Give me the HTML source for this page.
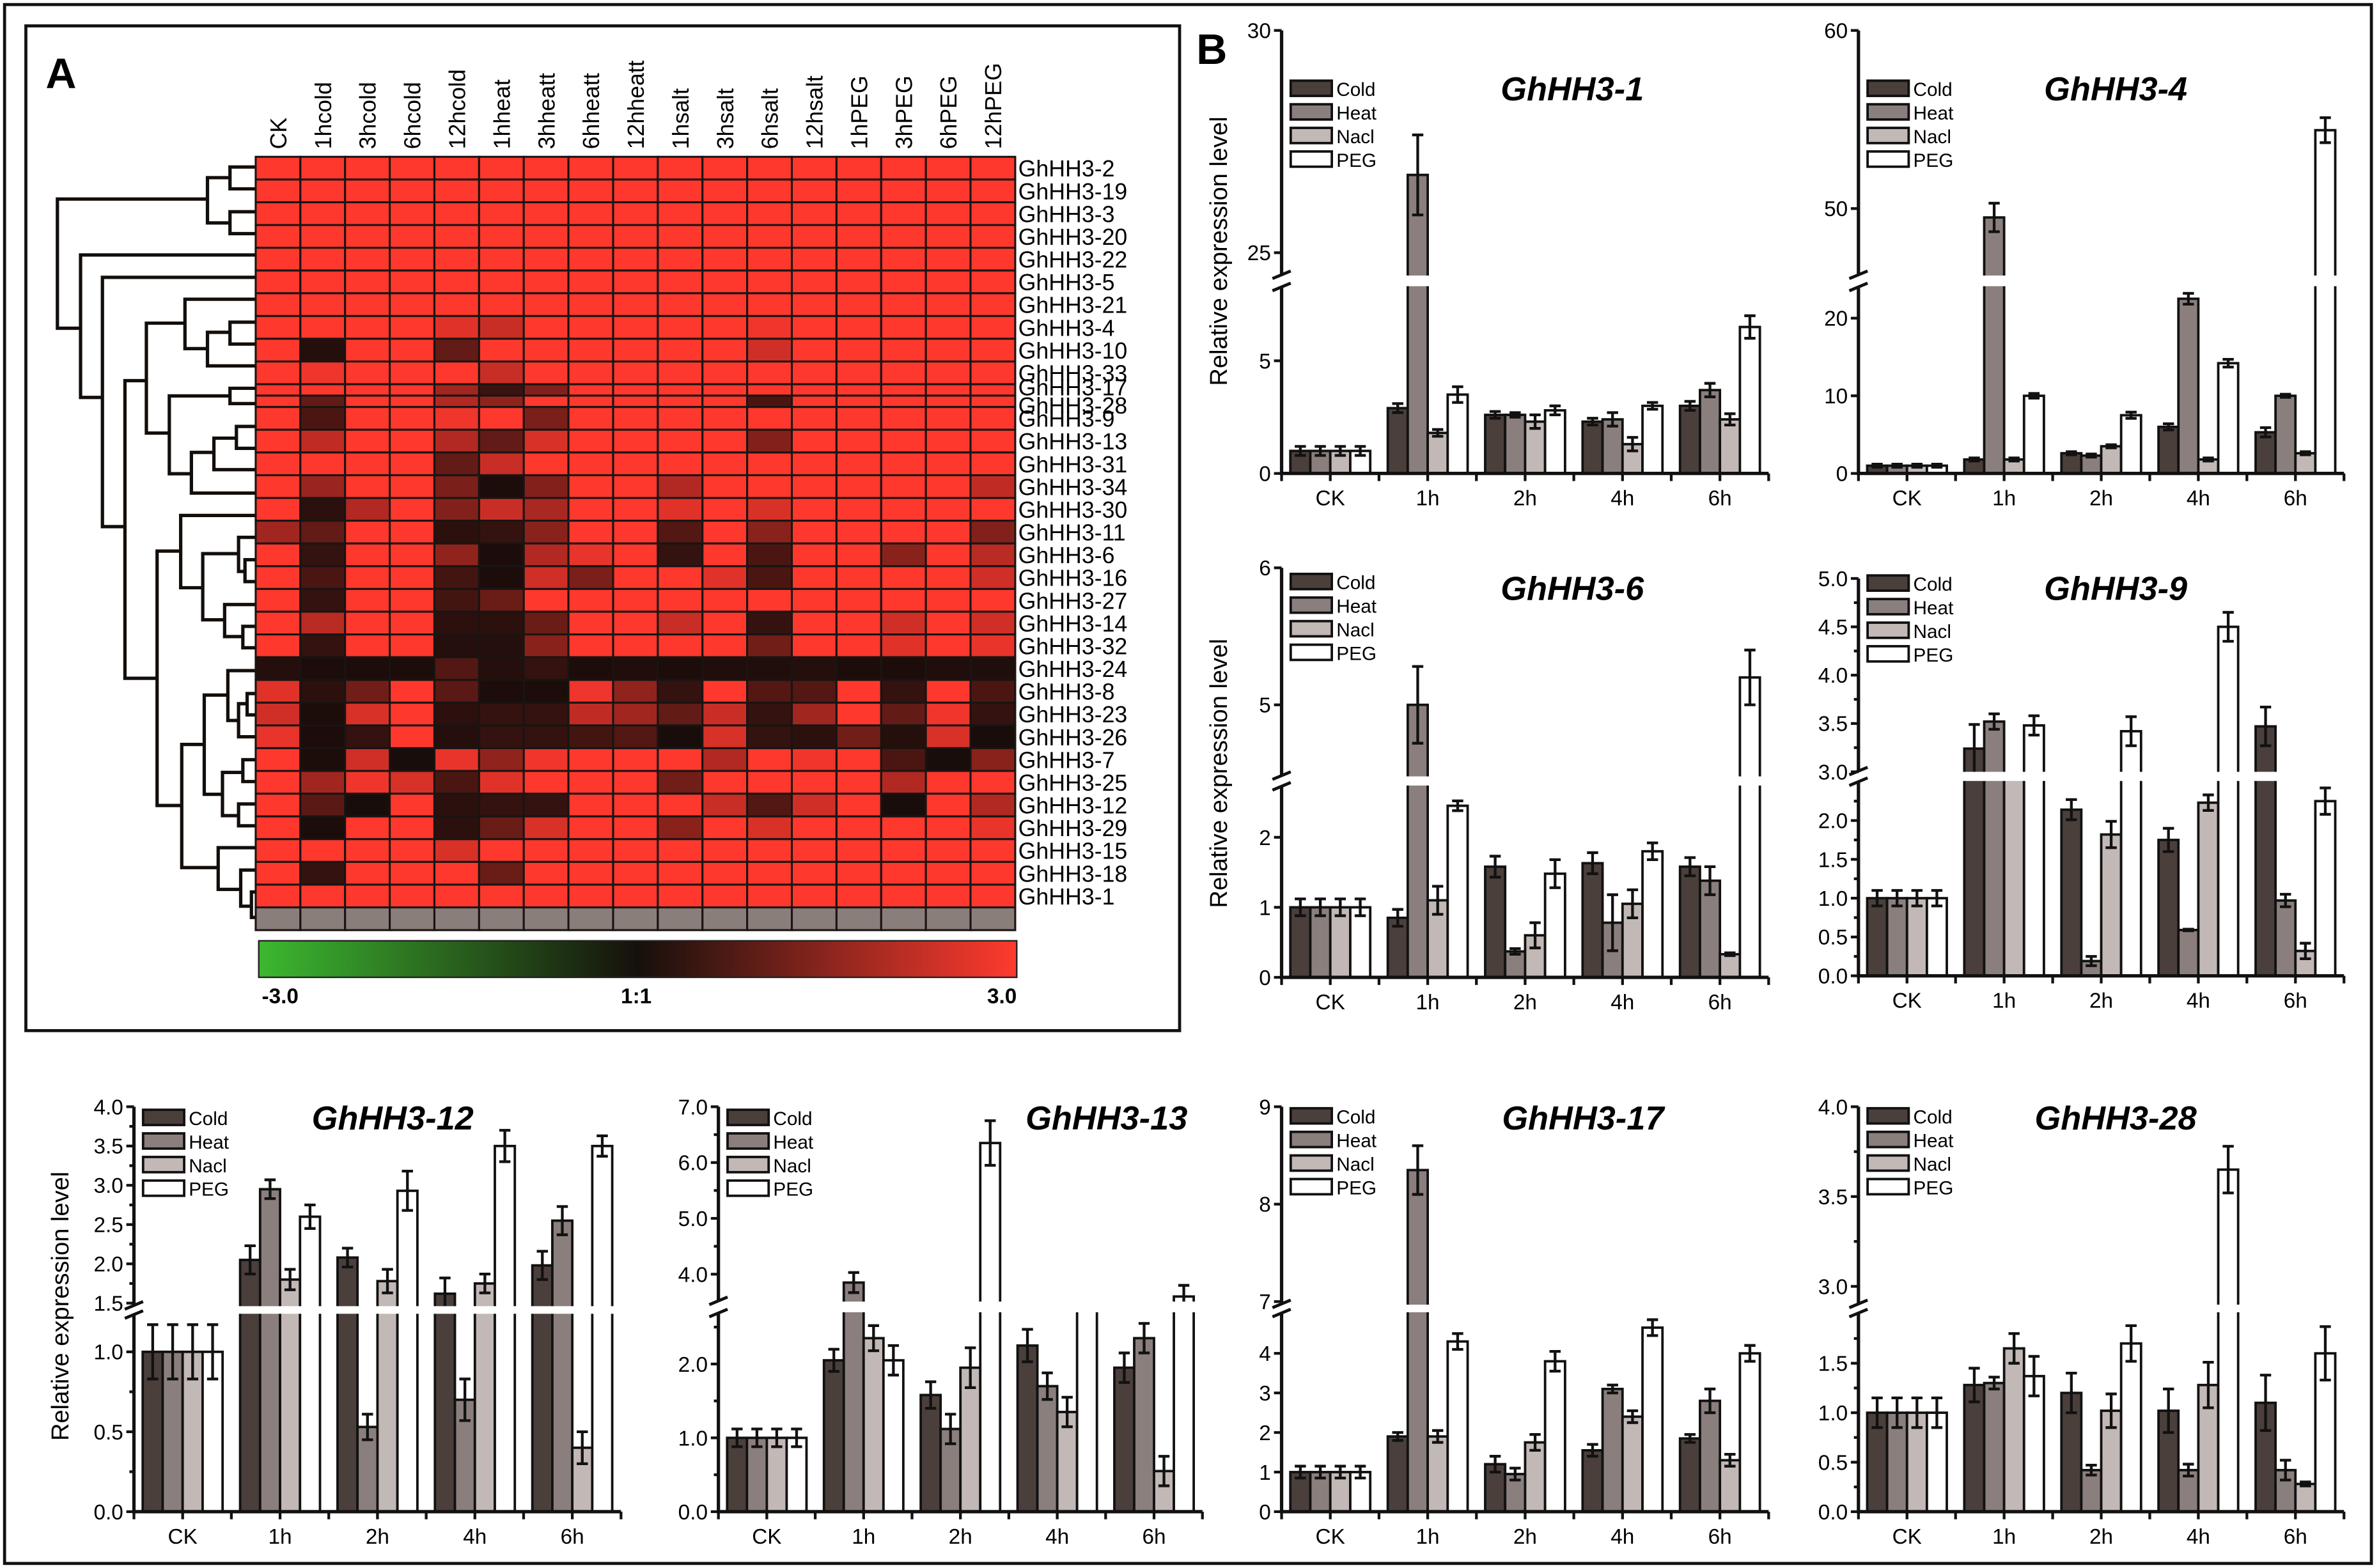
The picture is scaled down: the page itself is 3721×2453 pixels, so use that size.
<!DOCTYPE html>
<html><head><meta charset="utf-8"><title>GhHH3 expression</title>
<style>
html,body{margin:0;padding:0;background:#fff;overflow:hidden;}
svg{display:block;font-family:"Liberation Sans",Arial,sans-serif;}
</style></head>
<body>
<svg id="fig" width="3721" height="2453" viewBox="0 0 1563 1030" preserveAspectRatio="none" xmlns="http://www.w3.org/2000/svg">
<defs>
<linearGradient id="cbar" x1="0" x2="1" y1="0" y2="0">
<stop offset="0" stop-color="#3cb830"/><stop offset="0.5" stop-color="#16100c"/><stop offset="1" stop-color="#ff3a2e"/>
</linearGradient>
</defs>
<rect x="3" y="3" width="1555" height="1024" fill="none" stroke="#111" stroke-width="2"/>
<rect x="17" y="17" width="758" height="660" fill="none" stroke="#111" stroke-width="2"/>
<text x="30" y="58" font-size="28" font-weight="bold">A</text>
<text x="786" y="42" font-size="28" font-weight="bold">B</text>
<g id="dendro" fill="none" stroke="#140e0b" stroke-width="2.2"></g>
<g id="heat"></g>
<rect x="170" y="618" width="498" height="24" fill="url(#cbar)" stroke="#222" stroke-width="1"/>
<text x="172" y="659" font-size="14" font-weight="bold">-3.0</text>
<text x="418" y="659" font-size="14" font-weight="bold" text-anchor="middle">1:1</text>
<text x="668" y="659" font-size="14" font-weight="bold" text-anchor="end">3.0</text>
<g id="bars"></g>
</svg>
<script>
// ---------------- Heatmap data ----------------
const heatConditions = ["CK","1hcold","3hcold","6hcold","12hcold","1hheat","3hheatt","6hheatt","12hheatt","1hsalt","3hsalt","6hsalt","12hsalt","1hPEG","3hPEG","6hPEG","12hPEG"];
const heatGenes = ["GhHH3-2","GhHH3-19","GhHH3-3","GhHH3-20","GhHH3-22","GhHH3-5","GhHH3-21","GhHH3-4","GhHH3-10","GhHH3-33","GhHH3-17","GhHH3-28","GhHH3-9","GhHH3-13","GhHH3-31","GhHH3-34","GhHH3-30","GhHH3-11","GhHH3-6","GhHH3-16","GhHH3-27","GhHH3-14","GhHH3-32","GhHH3-24","GhHH3-8","GhHH3-23","GhHH3-26","GhHH3-7","GhHH3-25","GhHH3-12","GhHH3-29","GhHH3-15","GhHH3-18","GhHH3-1"];
const heatValues = [
[3,3,3,3,3,3,3,3,3,3,3,3,3,3,3,3,3],
[3,3,3,3,3,3,3,3,3,3,3,3,3,3,3,3,3],
[3,3,3,3,3,3,3,3,3,3,3,3,3,3,3,3,3],
[3,3,3,3,3,3,3,3,3,3,3,3,3,3,3,3,3],
[3,3,3,3,3,3,3,3,3,3,3,3,3,3,3,3,3],
[3,3,3,3,3,3,3,3,3,3,3,3,3,3,3,3,3],
[3,3,3,3,3,3,3,3,3,3,3,3,3,3,3,3,3],
[3,3,3,3,2.6,2.3,3,3,3,3,3,2.8,3,3,3,3,3],
[3,0.2,3,3,1.0,3,3,3,3,3,3,2.4,3,3,3,3,3],
[3,2.8,3,3,3,2.3,3,3,3,3,3,3,3,3,3,3,3],
[3,3,3,3,1.8,0.5,1.4,3,3,3,3,3,3,3,3,3,3],
[3,1.0,3,3,2.0,1.6,3,3,3,3,3,0.7,3,3,3,3,3],
[3,0.7,3,3,2.8,3,1.3,3,3,3,3,3,3,3,3,3,3],
[3,2.2,3,3,2.0,1.0,2.5,3,3,3,3,1.4,3,3,3,3,3],
[3,3,3,3,1.0,2.3,3,3,3,3,3,3,3,3,3,3,3],
[3,1.7,3,3,1.3,0.1,1.4,3,3,2.0,3,3,3,3,3,3,2.2],
[3,0.3,2.0,3,1.4,2.3,1.9,3,3,2.6,3,2.5,3,3,3,3,3],
[1.8,1.0,3,3,0.3,0.4,1.5,3,3,0.8,3,1.5,3,3,3,3,1.4],
[3,0.4,3,3,1.6,0.1,2.0,2.7,3,0.4,3,0.7,3,3,1.5,3,2.1],
[3,0.7,3,3,0.6,0.1,2.4,1.3,3,3,2.6,0.7,3,3,3,3,2.4],
[3,0.4,3,3,0.6,1.1,3,3,3,3,3,3,3,3,3,3,3],
[3,2.1,3,3,0.3,0.3,1.1,3,3,2.3,3,0.4,3,3,2.4,3,2.4],
[3,0.4,3,3,0.2,0.2,1.5,3,3,3,3,1.2,3,3,2.6,3,2.7],
[0.2,0.1,0.1,0.1,0.8,0.2,0.4,0.1,0.15,0.1,0.15,0.15,0.2,0.1,0.1,0.15,0.15],
[2.6,0.3,1.2,3,0.9,0.1,0.1,2.8,1.6,0.4,3,0.8,0.8,3,0.4,3,0.7],
[2.4,0.1,2.5,3,0.3,0.4,0.4,2.2,1.8,1.0,2.3,0.4,1.8,3,1.0,2.8,0.4],
[2.7,0.1,0.4,3,0.2,0.4,0.4,0.6,0.8,0.05,2.5,0.4,0.3,1.2,0.2,2.5,0.05],
[3,0.1,2.4,0.05,2.7,1.6,2.8,3,3,3,2.0,3,2.8,3,0.7,0.05,1.5],
[3,1.8,2.8,2.5,0.7,2.6,3,3,3,1.2,3,3,3,3,2.0,3,3],
[3,0.9,0.05,3,0.3,0.4,0.4,3,3,3,2.3,0.8,2.4,3,0.05,3,2.0],
[3,0.1,3,3,0.3,1.1,2.5,3,3,1.5,3,2.5,3,3,3,3,2.7],
[3,3,3,3,2.5,3,3,3,3,3,3,3,3,3,3,3,3],
[3,0.4,3,3,3,1.1,3,3,3,3,3,3,3,3,3,3,3],
[3,3,3,3,3,3,3,3,3,3,3,3,3,3,3,3,3]
];

// ---------------- Bar chart data ----------------
const categories = ["CK","1h","2h","4h","6h"];
const seriesNames = ["Cold","Heat","Nacl","PEG"];
const gh1Cold = [1,2.9,2.6,2.3,3.0];
const gh1Heat = [1,26.75,2.6,2.4,3.7];
const gh1Nacl = [1,1.8,2.3,1.3,2.4];
const gh1Peg  = [1,3.5,2.8,3.0,6.5];
const gh1Err  = [[0.2,0.2,0.15,0.15,0.2],[0.2,0.9,0.1,0.3,0.3],[0.2,0.15,0.3,0.3,0.25],[0.2,0.35,0.2,0.15,0.5]];
const gh4Cold = [1,1.8,2.6,6,5.3];
const gh4Heat = [1,49.5,2.3,22.5,10];
const gh4Nacl = [1,1.8,3.5,1.8,2.6];
const gh4Peg  = [1,10,7.5,14.2,54.4];
const gh4Err  = [[0.2,0.2,0.2,0.4,0.6],[0.2,0.8,0.2,0.7,0.2],[0.2,0.2,0.2,0.2,0.2],[0.2,0.3,0.4,0.5,0.7]];
const gh6Cold = [1,0.85,1.58,1.63,1.58];
const gh6Heat = [1,5.0,0.37,0.78,1.38];
const gh6Nacl = [1,1.1,0.6,1.05,0.33];
const gh6Peg  = [1,2.45,1.48,1.8,5.2];
const gh6Err  = [[0.12,0.12,0.15,0.15,0.13],[0.12,0.28,0.04,0.4,0.2],[0.12,0.2,0.18,0.2,0.02],[0.12,0.07,0.2,0.12,0.2]];
const gh9Cold = [1,3.24,2.14,1.75,3.47];
const gh9Heat = [1,3.52,0.19,0.59,0.97];
const gh9Nacl = [1,2.8,1.82,2.23,0.32];
const gh9Peg  = [1,3.48,3.42,4.5,2.25];
const gh9Err  = [[0.1,0.25,0.13,0.15,0.2],[0.1,0.08,0.06,0.01,0.08],[0.1,0,0.17,0.1,0.1],[0.1,0.1,0.15,0.15,0.17]];
const gh12Cold = [1,2.05,2.08,1.62,1.98];
const gh12Heat = [1,2.95,0.53,0.7,2.55];
const gh12Nacl = [1,1.8,1.78,1.75,0.4];
const gh12Peg  = [1,2.6,2.93,3.5,3.5];
const gh12Err  = [[0.17,0.18,0.12,0.2,0.18],[0.17,0.12,0.08,0.13,0.18],[0.17,0.13,0.15,0.12,0.1],[0.17,0.15,0.25,0.2,0.13]];
const gh13Cold = [1,2.05,1.58,2.25,1.95];
const gh13Heat = [1,3.85,1.12,1.7,2.35];
const gh13Nacl = [1,2.35,1.95,1.35,0.55];
const gh13Peg  = [1,2.05,6.35,3.45,3.6];
const gh13Err  = [[0.12,0.15,0.18,0.22,0.2],[0.12,0.18,0.2,0.18,0.2],[0.12,0.17,0.27,0.2,0.2],[0.12,0.2,0.4,0.3,0.2]];
const gh17Cold = [1,1.9,1.2,1.55,1.85];
const gh17Heat = [1,8.35,0.95,3.1,2.8];
const gh17Nacl = [1,1.9,1.75,2.4,1.3];
const gh17Peg  = [1,4.3,3.8,4.65,4.0];
const gh17Err  = [[0.15,0.1,0.2,0.15,0.1],[0.15,0.25,0.15,0.1,0.3],[0.15,0.15,0.2,0.15,0.15],[0.15,0.2,0.25,0.2,0.2]];
const gh28Cold = [1,1.28,1.2,1.02,1.1];
const gh28Heat = [1,1.3,0.42,0.42,0.42];
const gh28Nacl = [1,1.65,1.02,1.28,0.28];
const gh28Peg  = [1,1.37,1.7,3.65,1.6];
const gh28Err  = [[0.15,0.17,0.2,0.22,0.28],[0.15,0.06,0.05,0.06,0.1],[0.15,0.15,0.17,0.23,0.02],[0.15,0.2,0.18,0.13,0.27]];

const NS = "http://www.w3.org/2000/svg";
function mk(tag, attrs, parent){
  const e = document.createElementNS(NS, tag);
  for (const k in attrs) e.setAttribute(k, attrs[k]);
  parent.appendChild(e);
  return e;
}

// ---------------- Heatmap ----------------
const heatG = document.getElementById('heat');
const hx0 = 168, hx1 = 667, hy0 = 103, unit = 508/34;
const cw = (hx1 - hx0) / heatConditions.length;
function rowTop(i){ if (i < 10) return hy0 + i*unit; if (i === 10) return hy0 + 10*unit; if (i === 11) return hy0 + 10.5*unit; return hy0 + (i-1)*unit; }
function rowH(i){ return (i === 10 || i === 11) ? unit/2 : unit; }
function labelShift(i){ return i === 10 ? -2 : (i === 11 ? 2.5 : 0); }
function heatColor(v){
  const t = Math.max(0, Math.min(1, v/3));
  const r = Math.round(20 + (255-20)*t), g = Math.round(12 + (56-12)*t), b = Math.round(10 + (46-10)*t);
  return "rgb(" + r + "," + g + "," + b + ")";
}
heatValues.forEach((row, i) => {
  row.forEach((v, j) => {
    const c = mk('rect', {x: hx0 + j*cw, y: rowTop(i), width: cw, height: rowH(i), fill: heatColor(v), stroke: '#1a1412', 'stroke-width': 1.3}, heatG);
    
    
  });
  const lab = mk('text', {x: 669, y: rowTop(i) + rowH(i)/2 + 5.5 + labelShift(i), 'font-size': 15}, heatG);
  lab.textContent = heatGenes[i];
  
  
});
heatConditions.forEach((c, j) => {
  const gr = mk('rect', {x: hx0 + j*cw, y: hy0 + 33*unit, width: cw, height: unit, fill: '#8a7e7b', stroke: '#1a1412', 'stroke-width': 1.3}, heatG);
  
  
  const x = hx0 + (j+0.5)*cw + 5.5;
  const t = mk('text', {x: x, y: 98, 'font-size': 15, transform: 'rotate(-90 ' + x + ' 98)'}, heatG);
  t.textContent = c;
  
  
});

// ---------------- Dendrogram (zoom-space branches) ----------------
const dendroG = document.getElementById('dendro');
function dX(z){ return 18 + (z - 10) * 150/1065; }
function dY(z){ return 103 + (z - 25) * 0.3342; }
const dendroNodes = [
 [955,45,88,1075,1075],[955,133,176,1075,1075],[850,66,155,955,955],[150,108,362,850,258],
 [258,218,498,1075,360],[360,262,752,1075,465],[465,465,1050,565,615],[565,352,568,745,672],
 [745,305,402,1075,850],[850,370,436,955,1075],[955,350,393,1075,1075],[672,495,648,955,775],
 [955,480,510,1075,1075],[775,606,686,880,1075],[880,578,640,985,1075],[985,555,598,1075,1075],
 [615,800,1300,725,730],[725,730,872,1075,828],[828,805,935,995,930],[995,773,840,1075,1025],
 [1025,817,860,1075,1075],[930,905,968,1075,1015],[1015,948,990,1075,1075],[730,1180,1422,835,900],
 [835,1083,1278,945,920],[945,1035,1133,1075,995],[995,1100,1165,1035,1075],[1035,1080,1122,1075,1075],
 [920,1235,1320,1015,995],[1015,1210,1253,1075,1075],[995,1297,1340,1075,1075],[900,1383,1465,1075,1005],
 [1005,1427,1498,1075,1055],[1055,1470,1520,1075,1075]
];
dendroNodes.forEach((n, k) => {
  const d = 'M' + dX(n[3]) + ' ' + dY(n[1]) + ' H' + dX(n[0]) + ' V' + dY(n[2]) + ' H' + dX(n[4]);
  const p = mk('path', {d: d}, dendroG);
  
  
});

// ---------------- Bar charts ----------------
const barsG = document.getElementById('bars');
const seriesFill = ['#4a3f3b', '#8a7f7d', '#c2b8b5', '#ffffff'];
const panels = [
 {title:'GhHH3-1', s:[gh1Cold,gh1Heat,gh1Nacl,gh1Peg], err:gh1Err, L:842,R:1162,B:311,T:20, lo:[0,311,5,237], up:[25,166,30,20], brLo:188, brHi:181, loT:[0,5], loM:[], upT:[25,30], upM:[], dec:0, tx:1033, ty:66, ly:53, yl:[806,165]},
 {title:'GhHH3-4', s:[gh4Cold,gh4Heat,gh4Nacl,gh4Peg], err:gh4Err, L:1221,R:1540,B:311,T:20, lo:[0,311,10,260], up:[50,137,60,20], brLo:188, brHi:181, loT:[0,10,20], loM:[], upT:[50,60], upM:[], dec:0, tx:1390, ty:66, ly:53},
 {title:'GhHH3-6', s:[gh6Cold,gh6Heat,gh6Nacl,gh6Peg], err:gh6Err, L:842,R:1162,B:642,T:373, lo:[0,642,1,596], up:[5,463,6,373], brLo:516, brHi:510, loT:[0,1,2], loM:[], upT:[5,6], upM:[], dec:0, tx:1033, ty:394, ly:377, yl:[806,508]},
 {title:'GhHH3-9', s:[gh9Cold,gh9Heat,gh9Nacl,gh9Peg], err:gh9Err, L:1221,R:1540,B:641,T:380, lo:[0,641,1,590], up:[3,507,5,380], brLo:513, brHi:507, loT:[0,0.5,1,1.5,2], loM:[0.25,0.75,1.25,1.75,2.25], upT:[3,3.5,4,4.5,5], upM:[3.25,3.75,4.25,4.75], dec:1, tx:1390, ty:394, ly:378},
 {title:'GhHH3-12', s:[gh12Cold,gh12Heat,gh12Nacl,gh12Peg], err:gh12Err, L:88,R:408,B:993,T:727, lo:[0,993,1,888], up:[1.5,856,4,727], brLo:863, brHi:858, loT:[0,0.5,1], loM:[0.25,0.75], upT:[1.5,2,2.5,3,3.5,4], upM:[1.75,2.25,2.75,3.25,3.75], dec:1, tx:258, ty:742, ly:729, yl:[45,858]},
 {title:'GhHH3-13', s:[gh13Cold,gh13Heat,gh13Nacl,gh13Peg], err:gh13Err, L:472,R:790,B:993,T:727, lo:[0,993,2,896], up:[4,837,7,727], brLo:862, brHi:855, loT:[0,1,2], loM:[0.5,1.5,2.5], upT:[4,5,6,7], upM:[4.5,5.5,6.5], dec:1, tx:727, ty:742, ly:729},
 {title:'GhHH3-17', s:[gh17Cold,gh17Heat,gh17Nacl,gh17Peg], err:gh17Err, L:842,R:1162,B:993,T:727, lo:[0,993,1,967], up:[7,855,9,727], brLo:862, brHi:857, loT:[0,1,2,3,4], loM:[], upT:[7,8,9], upM:[], dec:0, tx:1040, ty:742, ly:728},
 {title:'GhHH3-28', s:[gh28Cold,gh28Heat,gh28Nacl,gh28Peg], err:gh28Err, L:1221,R:1540,B:993,T:727, lo:[0,993,1,928], up:[3,845,4,727], brLo:862, brHi:857, loT:[0,0.5,1,1.5], loM:[0.25,0.75,1.25,1.75], upT:[3,3.5,4], upM:[3.25,3.75], dec:1, tx:1390, ty:742, ly:728}
];

panels.forEach((p) => {
  const g = mk('g', {}, barsG);
  
  
  const loScale = (p.lo[1] - p.lo[3]) / (p.lo[2] - p.lo[0]);
  const upScale = (p.up[1] - p.up[3]) / (p.up[2] - p.up[0]);
  const yLo = v => p.lo[1] - (v - p.lo[0]) * loScale;
  const yUp = v => p.up[1] - (v - p.up[0]) * upScale;
  const loMax = p.lo[0] + (p.B - p.brLo) / loScale;
  const upMin = p.up[0] - (p.brHi - p.up[1]) / upScale;
  const yMap = v => v <= loMax ? yLo(v) : (v >= upMin ? yUp(v) : (p.brLo + p.brHi) / 2);
  const slot = (p.R - p.L) / categories.length;
  const gw = slot * 0.82, bw = gw / 4;

  categories.forEach((cat, i) => {
    const gx = p.L + i*slot + (slot - gw)/2;
    p.s.forEach((arr, k) => {
      const v = arr[i];
      const top = yMap(v);
      const b = mk('rect', {x: gx + k*bw, y: top, width: bw, height: p.B - top, fill: seriesFill[k], stroke: '#111', 'stroke-width': 1.6}, g);
      
      
      const e = p.err[k][i];
      if (e > 0.005 && (v <= loMax || v >= upMin)) {
        const cx = gx + (k + 0.5)*bw, y1 = yMap(v + e), y2 = yMap(Math.max(0, v - e)), cap = bw*0.28;
        const eb = mk('path', {d: 'M' + cx + ' ' + y1 + ' V' + y2 + ' M' + (cx-cap) + ' ' + y1 + ' H' + (cx+cap) + ' M' + (cx-cap) + ' ' + y2 + ' H' + (cx+cap), stroke: '#111', 'stroke-width': 1.8, fill: 'none'}, g);
        
        
      }
    });
    const xl = mk('text', {x: p.L + (i + 0.5)*slot, y: p.B + 21, 'font-size': 14, 'text-anchor': 'middle'}, g);
    xl.textContent = cat;
    
    
  });

  const band = mk('rect', {x: p.L + 2, y: p.brHi, width: p.R - p.L, height: p.brLo - p.brHi, fill: '#fff'}, g);
  
  

  const ax = mk('path', {d: 'M' + p.L + ' ' + p.T + ' V' + p.brHi + ' M' + p.L + ' ' + p.brLo + ' V' + p.B + ' H' + p.R, stroke: '#111', 'stroke-width': 2.2, fill: 'none'}, g);
  
  
  const sl = mk('path', {d: 'M' + (p.L-6) + ' ' + (p.brHi+2) + ' L' + (p.L+6) + ' ' + (p.brHi-3) + ' M' + (p.L-6) + ' ' + (p.brLo+3) + ' L' + (p.L+6) + ' ' + (p.brLo-2), stroke: '#111', 'stroke-width': 2, fill: 'none'}, g);
  
  
  for (let k = 0; k <= categories.length*2; k++) {
    const x = p.L + k*slot/2;
    const t = mk('line', {x1: x, x2: x, y1: p.B, y2: p.B + 5, stroke: '#111', 'stroke-width': 1.8}, g);
    
    
  }
  const tickSet = [[p.loT, yLo, 5, true], [p.loM, yLo, 3, false], [p.upT, yUp, 5, true], [p.upM, yUp, 3, false]];
  tickSet.forEach(ts => {
    ts[0].forEach(v => {
      const y = ts[1](v);
      const t = mk('line', {x1: p.L - ts[2], x2: p.L, y1: y, y2: y, stroke: '#111', 'stroke-width': 1.8}, g);
      
      
      if (ts[3]) {
        const l = mk('text', {x: p.L - 7, y: y + 5, 'font-size': 14, 'text-anchor': 'end'}, g);
        l.textContent = v.toFixed(p.dec);
        
        
      }
    });
  });

  const tt = mk('text', {x: p.tx, y: p.ty, 'font-size': 22, 'font-weight': 'bold', 'font-style': 'italic', 'text-anchor': 'middle'}, g);
  tt.textContent = p.title;
  
  

  seriesNames.forEach((n, k) => {
    const y = p.ly + k*15.5;
    const sw = mk('rect', {x: p.L + 6, y: y, width: 27, height: 10, fill: seriesFill[k], stroke: '#111', 'stroke-width': 1.6}, g);
    
    
    const lt = mk('text', {x: p.L + 36, y: y + 10, 'font-size': 12.5}, g);
    lt.textContent = n;
    
    
  });

  if (p.yl) {
    const yl = mk('text', {x: p.yl[0], y: p.yl[1], 'font-size': 16, 'text-anchor': 'middle', transform: 'rotate(-90 ' + p.yl[0] + ' ' + p.yl[1] + ')'}, g);
    yl.textContent = 'Relative expression level';
    
    
  }
});
</script>
</body></html>
